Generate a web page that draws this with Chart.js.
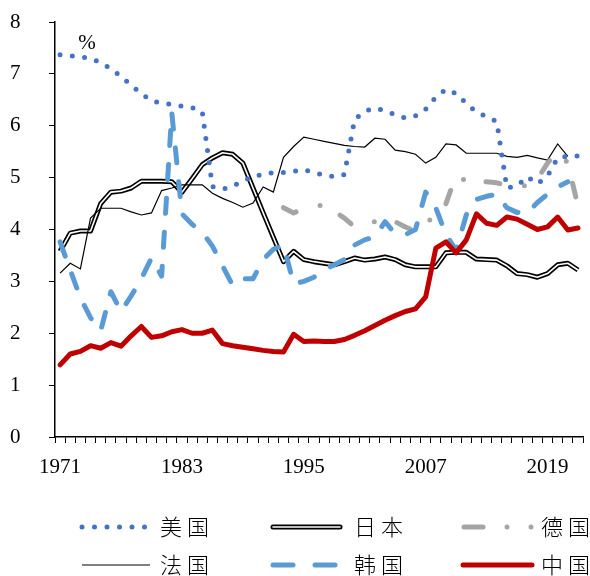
<!DOCTYPE html>
<html><head><meta charset="utf-8">
<script src="https://cdn.jsdelivr.net/npm/chart.js@4.4.1/dist/chart.umd.min.js"></script>
<style>html,body{margin:0;padding:0;background:#fff;}canvas{display:block}</style>
</head><body>
<canvas id="c" width="590" height="576"></canvas>
<script>
const years = ['1971','1972','1973','1974','1975','1976','1977','1978','1979','1980','1981','1982','1983','1984','1985','1986','1987','1988','1989','1990','1991','1992','1993','1994','1995','1996','1997','1998','1999','2000','2001','2002','2003','2004','2005','2006','2007','2008','2009','2010','2011','2012','2013','2014','2015','2016','2017','2018','2019','2020','2021','2022'];
const tickLabels = ['1971','1983','1995','2007','2019'];

const usa = [7.37,7.35,7.33,7.30,7.22,7.10,6.95,6.78,6.62,6.48,6.44,6.41,6.38,6.35,6.27,4.83,4.78,4.83,4.95,5.00,5.08,5.09,5.10,5.12,5.15,5.10,5.05,5.02,5.06,6.12,6.28,6.34,6.29,6.21,6.15,6.19,6.32,6.55,6.70,6.62,6.43,6.26,6.18,6.08,4.80,4.84,5.02,4.88,5.03,5.38,5.41,5.42];
const japan = [3.58,3.93,3.97,3.97,4.50,4.72,4.74,4.80,4.93,4.93,4.93,4.92,4.72,4.98,5.25,5.38,5.48,5.45,5.28,4.80,4.32,3.85,3.38,3.58,3.42,3.38,3.35,3.32,3.38,3.45,3.41,3.43,3.47,3.42,3.32,3.28,3.28,3.28,3.55,3.56,3.56,3.43,3.42,3.41,3.30,3.15,3.13,3.08,3.15,3.32,3.35,3.22];
const germany = [null,null,null,null,null,null,null,null,null,null,null,null,null,null,null,null,null,null,null,null,null,null,4.42,4.32,4.40,4.45,4.47,4.35,4.22,4.05,4.10,4.15,4.17,4.15,4.05,3.96,4.10,4.30,4.50,5.05,4.93,4.92,4.92,4.90,4.85,4.82,4.85,4.97,5.28,5.50,5.28,4.45];
const france = [3.16,3.35,3.24,4.22,4.41,4.41,4.41,4.34,4.28,4.32,4.75,4.80,4.86,4.86,4.86,4.70,4.60,4.52,4.43,4.51,4.82,4.72,5.39,5.60,5.78,5.74,5.70,5.66,5.62,5.60,5.59,5.76,5.74,5.53,5.50,5.45,5.28,5.39,5.65,5.63,5.47,5.47,5.47,5.47,5.41,5.39,5.43,5.38,5.34,5.65,5.41,null];
const korea = [3.76,3.22,2.68,2.30,2.05,2.80,2.42,2.72,3.05,3.45,3.10,6.25,4.30,4.10,3.95,3.68,3.30,2.92,3.05,3.05,3.42,3.62,3.70,2.95,3.00,3.08,3.22,3.32,3.42,3.70,3.80,3.86,4.15,3.92,3.90,4.00,4.72,4.42,3.90,3.60,4.28,4.58,4.64,4.68,4.42,4.33,4.32,4.52,4.68,4.82,4.92,null];
const china = [1.39,1.60,1.65,1.76,1.71,1.82,1.75,1.95,2.13,1.92,1.95,2.03,2.07,2.00,2.00,2.06,1.80,1.76,1.73,1.70,1.67,1.65,1.64,1.98,1.84,1.85,1.84,1.84,1.88,1.96,2.05,2.15,2.25,2.34,2.42,2.47,2.70,3.64,3.76,3.55,3.80,4.30,4.12,4.08,4.24,4.20,4.10,4.00,4.05,4.24,3.99,4.03];

const names = {usa:'美国', japan:'日本', germany:'德国', france:'法国', korea:'韩国', china:'中国'};
const C = {usa:'#4472C4', germany:'#A5A5A5', korea:'#5B9BD5', china:'#C00000', black:'#000000'};

const serif = "'Liberation Serif','Times New Roman',serif";
const cjk = "'Noto Sans CJK SC','Noto Sans CJK JP',sans-serif";

const legendPlugin = {
  id:'customLegend',
  afterDraw(chart){
    const ctx = chart.ctx;
    ctx.save();
    ctx.fillStyle = '#000';
    ctx.font = '21px ' + serif;
    ctx.textAlign = 'center';
    ctx.textBaseline = 'middle';
    ctx.fillText('%', 87, 43);

    const r1 = 527, r2 = 565;
    ctx.lineCap = 'round';
    ctx.fillStyle = C.usa;
    for (let k=0;k<6;k++){ ctx.beginPath(); ctx.arc(82 + k*12.5, r1, 2.5, 0, Math.PI*2); ctx.fill(); }
    ctx.strokeStyle = '#000'; ctx.lineWidth = 5;
    ctx.beginPath(); ctx.moveTo(273, r1); ctx.lineTo(340, r1); ctx.stroke();
    ctx.strokeStyle = '#fff'; ctx.lineWidth = 1.6;
    ctx.beginPath(); ctx.moveTo(273, r1); ctx.lineTo(340, r1); ctx.stroke();
    ctx.strokeStyle = C.germany; ctx.lineWidth = 5;
    ctx.beginPath(); ctx.moveTo(464, r1); ctx.lineTo(483, r1); ctx.stroke();
    ctx.fillStyle = C.germany;
    [507, 531].forEach(x=>{ ctx.beginPath(); ctx.arc(x, r1, 2.5, 0, Math.PI*2); ctx.fill(); });
    ctx.strokeStyle = '#000'; ctx.lineWidth = 1.2; ctx.lineCap='butt';
    ctx.beginPath(); ctx.moveTo(82, r2); ctx.lineTo(150, r2); ctx.stroke();
    ctx.lineCap='round';
    ctx.strokeStyle = C.korea; ctx.lineWidth = 5;
    [[273,293],[315,335]].forEach(([a,b])=>{ ctx.beginPath(); ctx.moveTo(a, r2); ctx.lineTo(b, r2); ctx.stroke(); });
    ctx.strokeStyle = C.china; ctx.lineWidth = 5;
    ctx.beginPath(); ctx.moveTo(463, r2); ctx.lineTo(532, r2); ctx.stroke();

    ctx.fillStyle = '#000';
    ctx.font = '300 22px ' + cjk;
    ctx.textAlign = 'left';
    ctx.textBaseline = 'middle';
    const drawSpaced = (txt, x, y) => { [...txt].forEach((ch,i)=>ctx.fillText(ch, x + i*27, y)); };
    drawSpaced(names.usa, 160, r1);
    drawSpaced(names.japan, 354, r1);
    drawSpaced(names.germany, 541, r1);
    drawSpaced(names.france, 160, r2);
    drawSpaced(names.korea, 354, r2);
    drawSpaced(names.china, 541, r2);
    ctx.restore();
  }
};

const ctx = document.getElementById('c').getContext('2d');
new Chart(ctx, {
  type: 'line',
  data: {
    labels: years,
    datasets: [
      {label:names.china, data:china, borderColor:C.china, borderWidth:5, borderCapStyle:'round', borderJoinStyle:'round', order:0},
      {label:names.korea, data:korea, borderColor:C.korea, borderWidth:5, borderDash:[15,19], borderCapStyle:'round', borderJoinStyle:'round', order:1},
      {label:names.usa, data:usa, borderColor:C.usa, borderWidth:5, borderDash:[0,12.3], borderCapStyle:'round', borderJoinStyle:'round', order:2},
      {label:names.germany, data:germany, borderColor:C.germany, borderWidth:5, borderDash:[14,25,0,23], borderCapStyle:'round', borderJoinStyle:'round', order:3},
      {label:names.france, data:france, borderColor:C.black, borderWidth:1.2, order:4},
      {label:names.japan + '_inner', data:japan, borderColor:'#ffffff', borderWidth:1.6, borderJoinStyle:'round', order:5},
      {label:names.japan, data:japan, borderColor:C.black, borderWidth:5, borderJoinStyle:'round', order:6}
    ]
  },
  options: {
    responsive:false,
    animation:false,
    devicePixelRatio:1,
    layout:{padding:{top:22,right:2,left:10,bottom:0}},
    plugins:{legend:{display:false}, tooltip:{enabled:false}},
    elements:{point:{radius:0}, line:{tension:0, fill:false}},
    scales:{
      x:{
        type:'category', offset:true,
        grid:{offset:true, drawOnChartArea:false, drawTicks:true, tickLength:6, color:'#000', tickWidth:1},
        border:{color:'#000', width:1.5},
        ticks:{autoSkip:false, maxRotation:0, minRotation:0, padding:12, color:'#000', font:{family:serif, size:21},
          callback:function(v){ const l = this.getLabelForValue(v); return tickLabels.includes(l) ? l : ''; }},
        afterFit:(s)=>{ s.height = 139; }
      },
      y:{
        min:0, max:8,
        ticks:{stepSize:1, padding:3, crossAlign:'far', color:'#000', font:{family:serif, size:21}},
        grid:{drawOnChartArea:false, drawTicks:true, tickLength:6, color:'#000'},
        border:{color:'#000', width:1.5},
        afterFit:(s)=>{ s.width = 45; }
      }
    }
  },
  plugins:[legendPlugin]
});
</script>
</body></html>
